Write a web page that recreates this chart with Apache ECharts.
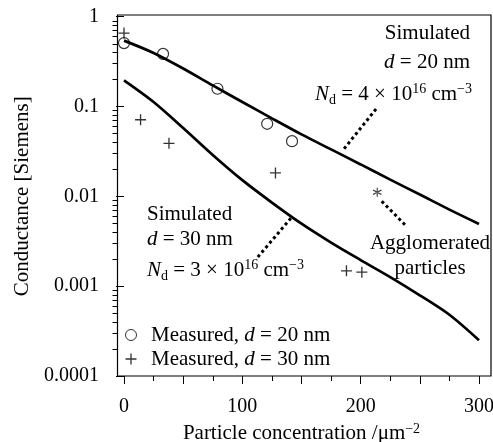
<!DOCTYPE html>
<html>
<head>
    <meta charset="UTF-8">
    <title>conductance</title>
    <style>
        html,
        body {
            margin: 0;
            padding: 0;
            background: #fff;
        }
    </style>
</head>
<body>
    <div id="show" style="width: 493px; height: 442px;"></div>
    <script src="https://cdn.jsdelivr.net/npm/echarts@6/dist/echarts.min.js"></script>
    <script>
        // particle concentration grid for the simulated curves
        var simX = [0, 25, 50, 75, 100, 125, 150, 175, 200, 225, 250, 275, 300];
        var simD20 = [0.539, 0.393, 0.264, 0.171, 0.112, 0.0736, 0.0488, 0.0332, 0.0226, 0.0153, 0.01044, 0.0071, 0.00492];
        var simD30 = [0.195, 0.112, 0.0575, 0.0288, 0.0151, 0.0085, 0.00495, 0.00305, 0.00195, 0.00126, 0.00079, 0.00048, 0.00025];

        // measured points
        var measD20X = [0, 33, 79, 121, 142];
        var measD20Y = [0.506, 0.384, 0.157, 0.064, 0.041];
        var measD30X = [0, 14, 38, 128, 188, 201];
        var measD30Y = [0.654, 0.071, 0.0388, 0.0182, 0.00148, 0.00143];
        var agglomX = [214];
        var agglomY = [0.0111];

        // dotted leader lines of the annotations
        var leaderD20 = [[213, 0.0935], [185.4, 0.033]];
        var leaderD30 = [[141, 0.0057], [113, 0.0021]];
        var leaderAgg = [[217.8, 0.0088], [238.6, 0.00465]];

        var yTickLabels = ['0.0001', '0.001', '0.01', '0.1', '1'];
        var yDecades = [0.0001, 0.001, 0.01, 0.1];
        var yMinorSteps = [2, 3, 4, 5, 6, 7, 8, 9];

        var FF = '"Liberation Serif", "Times New Roman", serif';
        var nameD20 = 'Measured, d = 20 nm';
        var nameD30 = 'Measured, d = 30 nm';

        function zip(xs, ys) {
            return xs.map(function (x, i) { return [x, ys[i]]; });
        }

        var minorTicks = [];
        yDecades.forEach(function (d) {
            yMinorSteps.forEach(function (s) { minorTicks.push([0, d * s]); });
        });

        var crossPath = 'path://M4.4,0H5.6V4.4H10V5.6H5.6V10H4.4V5.6H0V4.4H4.4Z';
        var starPath = 'path://M4.45,0H5.55V10H4.45Z M9.03,8.02L9.63,6.98L0.97,1.98L0.37,3.02Z M0.97,8.02L0.37,6.98L9.03,1.98L9.63,3.02Z';

        // rich text styles for the annotations (zrender needs full fonts per token)
        var tok = {
            n: { fontFamily: FF, fontSize: 21, fill: '#000' },
            i: { fontFamily: FF, fontSize: 21, fontStyle: 'italic', fill: '#000' },
            sub: { fontFamily: FF, fontSize: 14, fill: '#000', padding: [12, 0, 0, 0] },
            sup: { fontFamily: FF, fontSize: 14, fill: '#000', padding: [0, 0, 10, 0] }
        };

        function note(x, y, text, align) {
            return {
                type: 'text',
                x: x,
                y: y,
                silent: true,
                style: {
                    text: text,
                    fontFamily: FF,
                    fontSize: 21,
                    fill: '#000',
                    align: align,
                    verticalAlign: 'middle',
                    rich: tok
                }
            };
        }

        var chart = echarts.init(document.getElementById('show'));

        chart.setOption({
            animation: false,
            backgroundColor: '#fff',
            grid: { left: 124, right: 14, top: 16.5, bottom: 66, outerBoundsMode: 'none' },
            xAxis: {
                type: 'value',
                min: 0,
                max: 300,
                interval: 50,
                name: 'Particle concentration /\u03bcm{sup|\u22122}',
                nameLocation: 'middle',
                nameGap: 43,
                nameTextStyle: {
                    fontFamily: FF,
                    fontSize: 21,
                    color: '#000',
                    rich: {
                        sup: { fontFamily: FF, fontSize: 14, color: '#000', padding: [0, 0, 10, 0] }
                    }
                },
                axisLine: { show: false },
                axisTick: { show: true, length: 8, lineStyle: { color: '#000', width: 1 } },
                minorTick: { show: true, splitNumber: 2, length: 5, lineStyle: { color: '#000', width: 1 } },
                splitLine: { show: false },
                axisLabel: {
                    margin: 21,
                    fontFamily: FF,
                    fontSize: 20,
                    color: '#000',
                    formatter: function (v) { return v % 100 === 0 ? String(v) : ''; }
                }
            },
            yAxis: {
                type: 'log',
                logBase: 10,
                min: 0.0001,
                max: 1,
                offset: 7,
                name: 'Conductance [Siemens]',
                nameLocation: 'middle',
                nameGap: 84,
                nameTextStyle: { fontFamily: FF, fontSize: 21, color: '#000' },
                axisLine: { show: false },
                axisTick: { show: true, length: 8, lineStyle: { color: '#000', width: 1 } },
                minorTick: { show: false },
                splitLine: { show: false },
                axisLabel: {
                    margin: 18,
                    fontFamily: FF,
                    fontSize: 20,
                    color: '#000',
                    formatter: function (v) {
                        return yTickLabels[Math.round(Math.log10(v)) + 4];
                    }
                }
            },
            legend: {
                data: [nameD20, nameD30],
                orient: 'vertical',
                left: 120,
                top: 318,
                itemWidth: 30,
                itemHeight: 11,
                itemGap: 0,
                selectedMode: false,
                itemStyle: { borderWidth: 1 },
                textStyle: {
                    fontFamily: FF,
                    fontSize: 21,
                    color: '#000',
                    lineHeight: 24,
                    rich: {
                        i: { fontFamily: FF, fontSize: 21, fontStyle: 'italic', color: '#000', lineHeight: 24 }
                    }
                },
                formatter: function (name) {
                    return name.replace(' d ', ' {i|d} ');
                }
            },
            graphic: [
                {
                    type: 'rect',
                    silent: true,
                    shape: { x: 117.5, y: 15, width: 373.5, height: 361 },
                    style: { fill: 'none', stroke: '#000', lineWidth: 1.2 }
                },
                note(470, 33, '{n|Simulated}', 'right'),
                note(470, 62, '{i|d}{n| = 20 nm}', 'right'),
                note(472, 94, '{i|N}{sub|d}{n| = 4 \u00d7 10}{sup|16}{n| cm}{sup|\u22123}', 'right'),
                note(147, 214, '{n|Simulated}', 'left'),
                note(147, 239, '{i|d}{n| = 30 nm}', 'left'),
                note(147, 270, '{i|N}{sub|d}{n| = 3 \u00d7 10}{sup|16}{n| cm}{sup|\u22123}', 'left'),
                note(430, 243, '{n|Agglomerated}', 'center'),
                note(430, 268, '{n|particles}', 'center')
            ],
            series: [
                {
                    name: 'Simulated, d = 20 nm',
                    type: 'line',
                    data: zip(simX, simD20),
                    smooth: 0.3,
                    symbol: 'none',
                    silent: true,
                    lineStyle: { color: '#000', width: 2.7 }
                },
                {
                    name: 'Simulated, d = 30 nm',
                    type: 'line',
                    data: zip(simX, simD30),
                    smooth: 0.3,
                    symbol: 'none',
                    silent: true,
                    lineStyle: { color: '#000', width: 2.7 }
                },
                {
                    name: 'leader d20',
                    type: 'line',
                    data: leaderD20,
                    symbol: 'none',
                    silent: true,
                    lineStyle: { color: '#000', width: 3, type: [3, 3] }
                },
                {
                    name: 'leader d30',
                    type: 'line',
                    data: leaderD30,
                    symbol: 'none',
                    silent: true,
                    lineStyle: { color: '#000', width: 3, type: [3, 3] }
                },
                {
                    name: 'leader agglomerated',
                    type: 'line',
                    data: leaderAgg,
                    symbol: 'none',
                    silent: true,
                    lineStyle: { color: '#000', width: 3, type: [3, 3] }
                },
                {
                    name: nameD20,
                    type: 'scatter',
                    data: zip(measD20X, measD20Y),
                    symbol: 'circle',
                    symbolSize: 11,
                    clip: false,
                    silent: true,
                    itemStyle: { color: 'rgba(255,255,255,0)', borderColor: '#000', borderWidth: 1.2 }
                },
                {
                    name: nameD30,
                    type: 'scatter',
                    data: zip(measD30X, measD30Y),
                    symbol: crossPath,
                    symbolSize: 11,
                    clip: false,
                    silent: true,
                    itemStyle: { color: '#000' }
                },
                {
                    name: 'Agglomerated particles',
                    type: 'scatter',
                    data: zip(agglomX, agglomY),
                    symbol: starPath,
                    symbolSize: 9,
                    silent: true,
                    itemStyle: { color: '#000' }
                },
                {
                    // log minor ticks at 2..9 of every decade, drawn on the shifted y axis line
                    name: 'y minor ticks',
                    type: 'custom',
                    data: minorTicks,
                    silent: true,
                    renderItem: function (params, api) {
                        var p = api.coord([0, api.value(1)]);
                        var x0 = Math.round(p[0] - 7) + 0.5;
                        var y0 = Math.round(p[1]) + 0.5;
                        return {
                            type: 'line',
                            shape: { x1: x0, y1: y0, x2: x0 - 5, y2: y0 },
                            style: { stroke: '#000', lineWidth: 1 }
                        };
                    }
                }
            ]
        });
    </script>
</body>
</html>
